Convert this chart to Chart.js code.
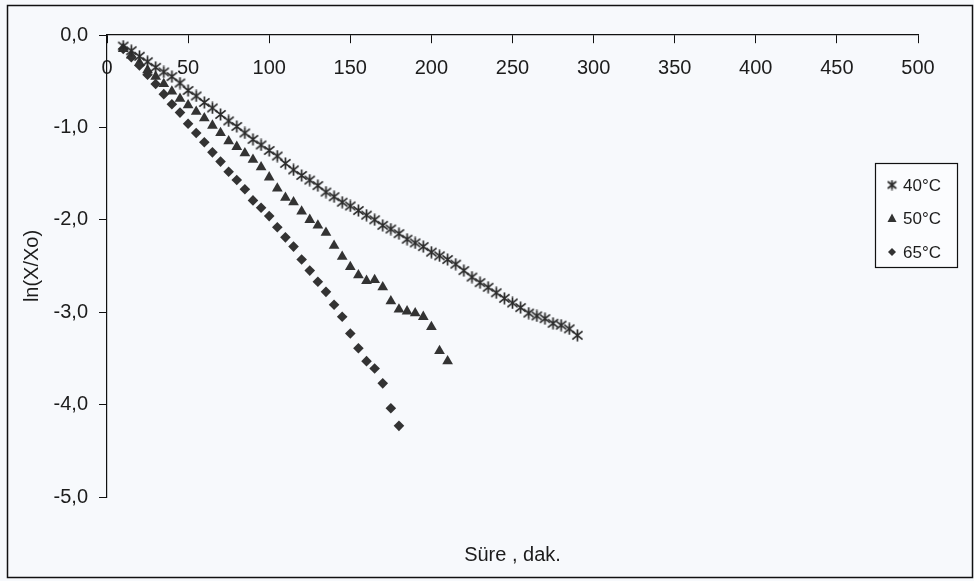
<!DOCTYPE html>
<html>
<head>
<meta charset="utf-8">
<script src="https://cdn.jsdelivr.net/npm/chart.js@4/dist/chart.umd.min.js"></script>
<style>
  html, body { margin: 0; padding: 0; background: #f7f9fc; }
  canvas { display: block; }
</style>
</head>
<body>
<canvas id="chart" width="974" height="581"></canvas>
<script>
// minutes and ln(X/Xo) for each temperature
const minutes40 = [10, 15, 20, 25, 30, 35, 40, 45, 50, 55, 60, 65, 70, 75, 80, 85, 90, 95, 100,
  105, 110, 115, 120, 125, 130, 135, 140, 145, 150, 155, 160, 165, 170, 175, 180, 185, 190, 195, 200,
  205, 210, 215, 220, 225, 230, 235, 240, 245, 250, 255, 260, 265, 270, 275, 280, 285, 290];
const ln40 = [-0.12, -0.17, -0.23, -0.29, -0.35, -0.40, -0.45, -0.52, -0.60, -0.66, -0.73, -0.79, -0.86, -0.93, -0.99, -1.06, -1.13, -1.19, -1.25,
  -1.31, -1.39, -1.46, -1.52, -1.57, -1.63, -1.70, -1.75, -1.81, -1.85, -1.90, -1.95, -2.00, -2.06, -2.10, -2.15, -2.21, -2.25, -2.29, -2.35,
  -2.39, -2.43, -2.48, -2.55, -2.62, -2.68, -2.73, -2.79, -2.85, -2.90, -2.95, -3.01, -3.04, -3.07, -3.12, -3.14, -3.18, -3.25];

const minutes50 = [10, 15, 20, 25, 30, 35, 40, 45, 50, 55, 60, 65, 70, 75, 80, 85, 90, 95, 100,
  105, 110, 115, 120, 125, 130, 135, 140, 145, 150, 155, 160, 165, 170, 175, 180, 185, 190, 195, 200, 205, 210];
const ln50 = [-0.15, -0.22, -0.30, -0.38, -0.45, -0.53, -0.61, -0.69, -0.76, -0.83, -0.90, -0.98, -1.06, -1.15, -1.21, -1.28, -1.35, -1.43, -1.54,
  -1.66, -1.76, -1.81, -1.91, -2.00, -2.06, -2.14, -2.28, -2.40, -2.51, -2.60, -2.66, -2.65, -2.73, -2.88, -2.97, -2.99, -3.01, -3.05, -3.16, -3.42, -3.53];

const minutes65 = [10, 15, 20, 25, 30, 35, 40, 45, 50, 55, 60, 65, 70, 75, 80, 85, 90, 95, 100,
  105, 110, 115, 120, 125, 130, 135, 140, 145, 150, 155, 160, 165, 170, 175, 180];
const ln65 = [-0.15, -0.24, -0.33, -0.43, -0.53, -0.64, -0.75, -0.84, -0.96, -1.06, -1.16, -1.27, -1.37, -1.48, -1.57, -1.67, -1.79, -1.87, -1.96,
  -2.08, -2.19, -2.29, -2.43, -2.55, -2.67, -2.78, -2.92, -3.05, -3.23, -3.39, -3.53, -3.61, -3.77, -4.04, -4.23];

const seriesNames = ['40°C', '50°C', '65°C'];
const yTickLabels = { '0': '0,0', '-1': '-1,0', '-2': '-2,0', '-3': '-3,0', '-4': '-4,0', '-5': '-5,0' };

const ink = '#333333';
const font = '"Liberation Sans", Arial, sans-serif';
Chart.defaults.font.family = font;
Chart.defaults.color = '#1c1c1c';

// asterisk marker: an X with a vertical stroke
function starMarker(size) {
  const c = document.createElement('canvas');
  c.width = c.height = size;
  const g = c.getContext('2d');
  const m = size / 2, r = size / 2 - 0.5;
  g.strokeStyle = '#2a2a2a';
  g.lineWidth = 1.7;
  g.beginPath();
  g.moveTo(m - r * 0.85, m - r * 0.7); g.lineTo(m + r * 0.85, m + r * 0.7);
  g.moveTo(m + r * 0.85, m - r * 0.7); g.lineTo(m - r * 0.85, m + r * 0.7);
  g.moveTo(m, m - r); g.lineTo(m, m + r);
  g.stroke();
  return c;
}
const star = starMarker(13);

function pairs(xs, ys) {
  return xs.map((x, i) => ({ x: x, y: ys[i] }));
}

const pageFrame = {
  id: 'pageFrame',
  beforeDraw(chart) {
    const ctx = chart.ctx;
    ctx.save();
    ctx.fillStyle = '#f7f9fc';
    ctx.fillRect(0, 0, chart.width, chart.height);
    ctx.strokeStyle = '#111';
    ctx.lineWidth = 1.5;
    ctx.strokeRect(7.5, 5.5, 965, 572);
    ctx.restore();
  }
};

const boxLegend = {
  id: 'boxLegend',
  afterDraw(chart) {
    const ctx = chart.ctx;
    const x0 = 875.5, y0 = 163.5, w = 82, h = 104;
    ctx.save();
    ctx.fillStyle = '#fbfcfe';
    ctx.fillRect(x0, y0, w, h);
    ctx.strokeStyle = '#111';
    ctx.lineWidth = 1.2;
    ctx.strokeRect(x0, y0, w, h);
    ctx.font = '17px ' + font;
    ctx.textBaseline = 'middle';
    chart.data.datasets.forEach((ds, i) => {
      const cy = 185 + i * 33.5, cx = 892;
      ctx.fillStyle = ink;
      if (ds.pointStyle === 'triangle') {
        ctx.beginPath();
        ctx.moveTo(cx, cy - 5); ctx.lineTo(cx + 4.5, cy + 3.5); ctx.lineTo(cx - 4.5, cy + 3.5);
        ctx.closePath(); ctx.fill();
      } else if (ds.pointStyle === 'rectRot') {
        ctx.beginPath();
        ctx.moveTo(cx, cy - 4); ctx.lineTo(cx + 4, cy); ctx.lineTo(cx, cy + 4); ctx.lineTo(cx - 4, cy);
        ctx.closePath(); ctx.fill();
      } else {
        ctx.drawImage(starMarker(11), cx - 5.5, cy - 5.5);
      }
      ctx.fillStyle = '#1c1c1c';
      ctx.fillText(ds.label, 903, cy + 1);
    });
    ctx.restore();
  }
};

new Chart(document.getElementById('chart'), {
  type: 'scatter',
  data: {
    datasets: [
      {
        label: seriesNames[0],
        data: pairs(minutes40, ln40),
        pointStyle: star,
        pointRadius: 6.5,
        backgroundColor: ink,
        borderColor: ink
      },
      {
        label: seriesNames[1],
        data: pairs(minutes50, ln50),
        pointStyle: 'triangle',
        pointRadius: 6.2,
        borderWidth: 0,
        backgroundColor: ink,
        borderColor: ink
      },
      {
        label: seriesNames[2],
        data: pairs(minutes65, ln65),
        pointStyle: 'rectRot',
        pointRadius: 5.3,
        borderWidth: 0,
        backgroundColor: ink,
        borderColor: ink
      }
    ]
  },
  options: {
    responsive: false,
    animation: false,
    events: [],
    layout: { padding: { left: 0, right: 56, top: 35, bottom: 0 } },
    plugins: {
      legend: { display: false },
      tooltip: { enabled: false },
      title: {
        display: true,
        text: 'Süre , dak.',
        position: 'bottom',
        fullSize: false,
        color: '#1c1c1c',
        font: { size: 20, weight: 'normal' },
        padding: { top: 46, bottom: 14 }
      }
    },
    scales: {
      x: {
        type: 'linear',
        min: 0,
        max: 500,
        position: { y: 0 },
        ticks: { stepSize: 50, padding: 13, font: { size: 20 }, color: '#1c1c1c' },
        grid: { drawOnChartArea: false, tickLength: 8, color: '#111' },
        border: { color: '#111', width: 1.2 }
      },
      y: {
        min: -5,
        max: 0,
        position: 'left',
        afterFit: (s) => { s.width = 107; },
        ticks: {
          stepSize: 1,
          padding: 11,
          font: { size: 20 },
          color: '#1c1c1c',
          callback: (v) => yTickLabels[String(v)] ?? ''
        },
        grid: { drawOnChartArea: false, tickLength: 8, color: '#111' },
        border: { color: '#111', width: 1.2 },
        title: {
          display: true,
          text: 'ln(X/Xo)',
          color: '#1c1c1c',
          font: { size: 20 },
          padding: { top: 20, bottom: 0 }
        }
      }
    }
  },
  plugins: [pageFrame, boxLegend]
});
</script>
</body>
</html>
